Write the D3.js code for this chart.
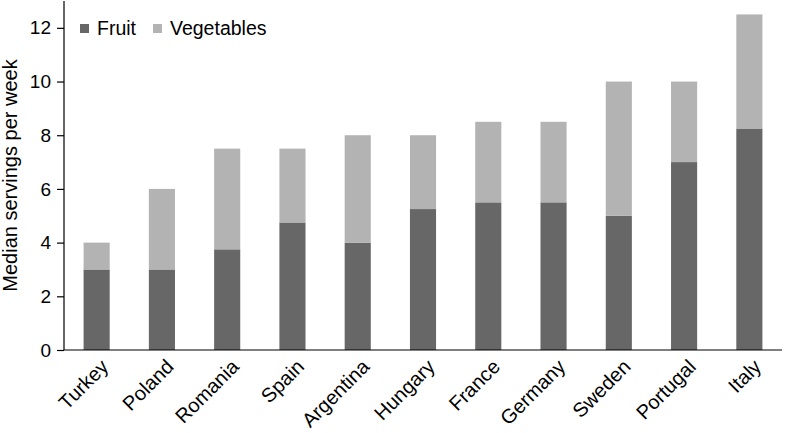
<!DOCTYPE html>
<meta charset="utf-8">
<script src="https://d3js.org/d3.v7.min.js"></script>
<style type="text/css">
    body { margin: 0; background: #fff; }
    text { font-family: "Liberation Sans", Arial, sans-serif; fill: #000; }
    .axis path, .axis line { fill: none; stroke: #000; stroke-width: 1.2; }
</style>
<body>
<script>
    var countries = ["Turkey", "Poland", "Romania", "Spain", "Argentina", "Hungary",
        "France", "Germany", "Sweden", "Portugal", "Italy"];
    var fruit = [3, 3, 3.75, 4.75, 4, 5.25, 5.5, 5.5, 5, 7, 8.25];
    var vegetables = [1, 3, 3.75, 2.75, 4, 2.75, 3, 3, 5, 3, 4.25];
    var yTicks = [0, 2, 4, 6, 8, 10, 12];
    var seriesNames = ["Fruit", "Vegetables"];
    var colors = ["#676767", "#b3b3b3"];

    var margin = {top: 1, right: 3, bottom: 83, left: 64},
        width = 785 - margin.left - margin.right,
        height = 433 - margin.top - margin.bottom;

    var svg = d3.select("body")
        .append("svg")
        .attr("width", 785)
        .attr("height", 433)
        .append("g")
        .attr("transform", "translate(" + margin.left + "," + margin.top + ")");

    var xScale = d3.scaleBand().domain(countries).range([0, width]).paddingInner(0.6).paddingOuter(0.3);
    var yScale = d3.scaleLinear().domain([0, 13]).range([height, 0]);

    var rows = countries.map(function(c, i){
        return {country: c, Fruit: fruit[i], Vegetables: vegetables[i]};
    });
    var stacked = d3.stack().keys(seriesNames)(rows);

    // bars
    svg.selectAll(".series")
        .data(stacked)
        .enter()
        .append("g")
        .attr("fill", function(d, i){ return colors[i]; })
        .selectAll("rect")
        .data(function(d){ return d; })
        .enter()
        .append("rect")
        .attr("x", function(d){ return xScale(d.data.country); })
        .attr("y", function(d){ return yScale(d[1]); })
        .attr("width", xScale.bandwidth())
        .attr("height", function(d){ return yScale(d[0]) - yScale(d[1]); });

    // y axis
    var yAxis = svg.append("g")
        .attr("class", "axis")
        .call(d3.axisLeft(yScale).tickValues(yTicks).tickSize(7).tickPadding(6));
    yAxis.select(".domain").attr("d", "M0," + height + "V0");
    yAxis.selectAll("text").style("font-size", "19px");

    // x axis
    var xAxis = svg.append("g")
        .attr("class", "axis")
        .attr("transform", "translate(0," + height + ")")
        .call(d3.axisBottom(xScale).tickSize(0));
    xAxis.select(".domain").attr("d", "M0,0H" + width);
    xAxis.selectAll("text")
        .style("font-size", "20px")
        .attr("text-anchor", "end")
        .attr("transform", "translate(13,18) rotate(-45)")
        .attr("dy", 0)
        .attr("y", 0);

    // axis title
    svg.append("text")
        .attr("transform", "rotate(-90)")
        .attr("x", -height / 2)
        .attr("y", -47)
        .attr("text-anchor", "middle")
        .style("font-size", "20px")
        .text("Median servings per week");

    // legend
    var legend = svg.selectAll(".legend")
        .data(seriesNames)
        .enter()
        .append("g")
        .attr("transform", function(d, i){ return "translate(" + (16 + i * 73) + ",23)"; });
    legend.append("rect")
        .attr("width", 9)
        .attr("height", 9)
        .attr("fill", function(d, i){ return colors[i]; });
    legend.append("text")
        .attr("x", 17)
        .attr("y", 11)
        .style("font-size", "19.5px")
        .text(function(d){ return d; });
</script>
</body>
